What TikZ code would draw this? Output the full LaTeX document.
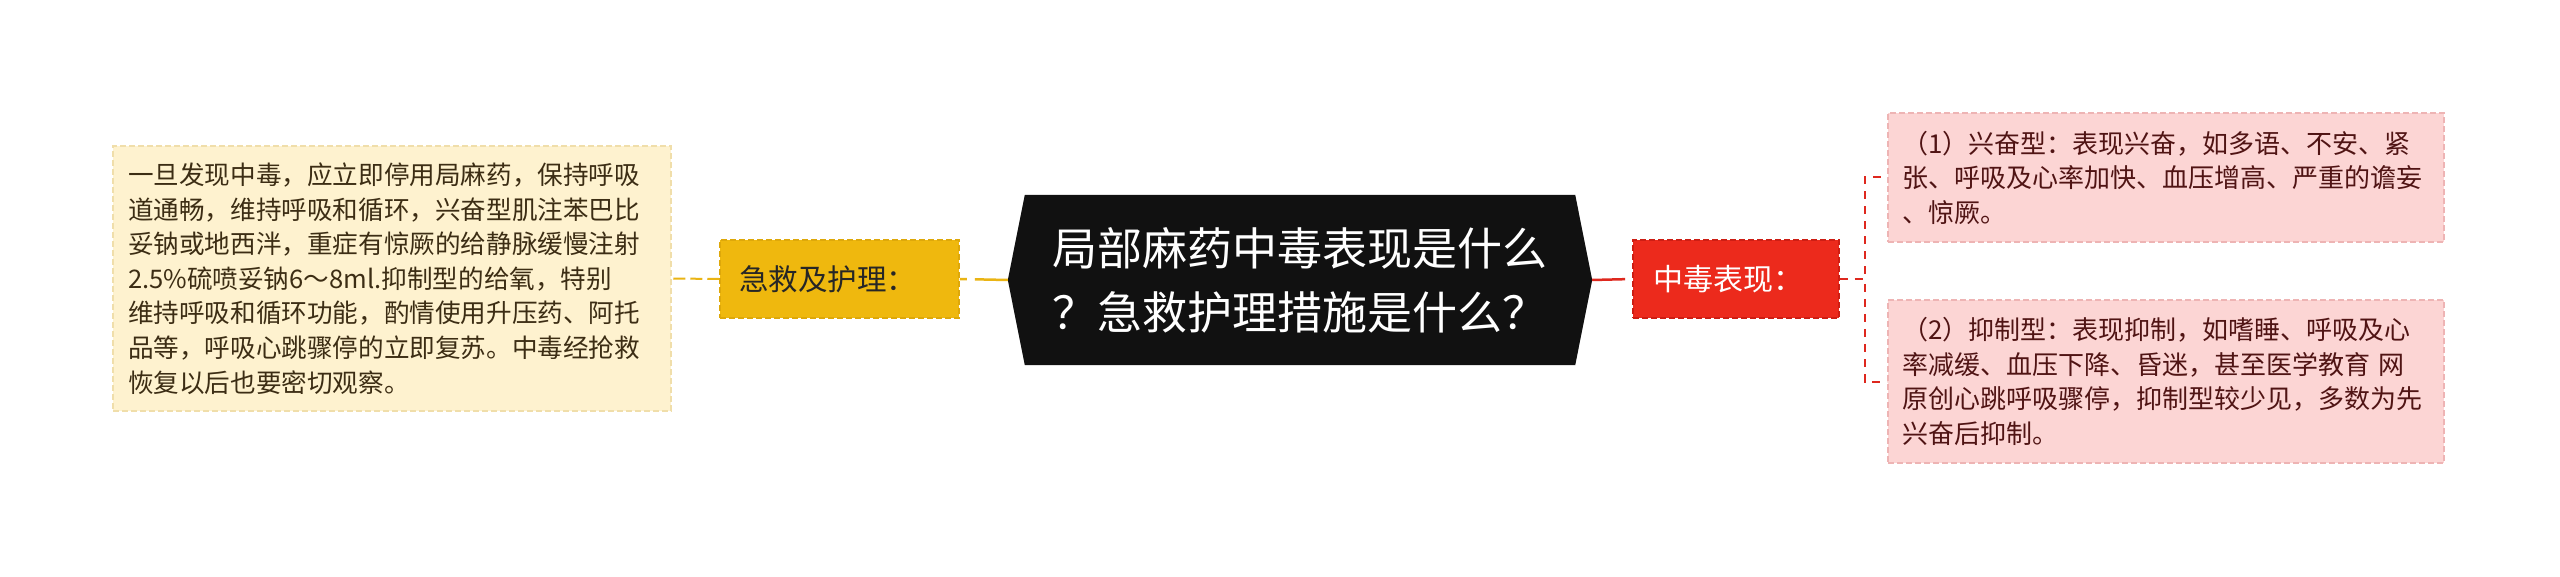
\documentclass[tikz,border=0pt]{standalone}
\usepackage{fontspec}
\usepackage{xcolor}
\usetikzlibrary{backgrounds}
\newfontfamily\cjk{Noto Sans CJK SC}
\definecolor{rootblack}{RGB}{17,17,17}
\definecolor{aidyellow}{RGB}{239,184,14}
\definecolor{aidline}{RGB}{234,180,20}
\definecolor{aidborder}{RGB}{222,168,10}
\definecolor{creamfill}{RGB}{254,242,207}
\definecolor{creamborder}{RGB}{240,222,170}
\definecolor{creamtext}{RGB}{60,45,20}
\definecolor{signred}{RGB}{236,42,28}
\definecolor{signborder}{RGB}{205,30,20}
\definecolor{signline}{RGB}{222,40,30}
\definecolor{pinkfill}{RGB}{252,213,212}
\definecolor{pinkborder}{RGB}{238,180,180}
\definecolor{pinktext}{RGB}{80,20,20}

\begin{document}
\begin{tikzpicture}[x=1pt, y=-1pt,
    topic/.style={rectangle, draw, dash pattern=on 6pt off 3pt, line width=1.5pt, align=left, inner ysep=0pt},
    aidtopic/.style={topic, fill=aidyellow, draw=aidborder, text=black!85, font=\cjk\fontsize{29.5}{36}\selectfont, text width=201pt, inner xsep=19pt, minimum height=78pt},
    signtopic/.style={topic, fill=signred, draw=signborder, text=white, font=\cjk\fontsize{30}{36}\selectfont, text width=166pt, inner xsep=20pt, minimum height=78pt},
    aidnote/.style={topic, fill=creamfill, draw=creamborder, text=creamtext, font=\cjk\fontsize{25.6}{34.6}\selectfont, text width=528pt, inner xsep=15pt, minimum height=265pt},
    signnote/.style={topic, fill=pinkfill, draw=pinkborder, text=pinktext, font=\cjk\fontsize{26}{34.5}\selectfont, text width=528pt, inner xsep=14pt},
    rootlink/.style={line width=2.5pt, dash pattern=on 33pt off 8pt},
    sublink/.style={line width=2pt, dash pattern=on 12pt off 5pt},
    bracelink/.style={line width=2pt, signline, dash pattern=on 8pt off 7pt}]
    \useasboundingbox (0,0) rectangle (2560,577);

    % Root topic
    \node[text=white, align=left, minimum width=584pt, minimum height=170pt, inner sep=0pt,
        font=\cjk\fontsize{45}{64}\selectfont] (root) at (1300,280)
        {局部麻药中毒表现是什么\\？急救护理措施是什么？};

    % Left branch
    \node[aidtopic] (aid) at (839.5,279) {急救及护理：};
    \node[aidnote] (aidtext) at (392,278.5)
        {一旦发现中毒，应立即停用局麻药，保持呼吸\\
         道通畅，维持呼吸和循环，兴奋型肌注苯巴比\\
         妥钠或地西泮，重症有惊厥的给静脉缓慢注射\\
         2.5\%硫喷妥钠6～8ml.抑制型的给氧，特别\\
         维持呼吸和循环功能，酌情使用升压药、阿托\\
         品等，呼吸心跳骤停的立即复苏。中毒经抢救\\
         恢复以后也要密切观察。};

    % Right branch
    \node[signtopic] (sign) at (1736,279) {中毒表现：};
    \node[signnote, minimum height=129pt] (excite) at (2166,177.5)
        {（1）兴奋型：表现兴奋，如多语、不安、紧\\
         张、呼吸及心率加快、血压增高、严重的谵妄\\
         、惊厥。};
    \node[signnote, minimum height=163pt] (depress) at (2166,381.5)
        {（2）抑制型：表现抑制，如嗜睡、呼吸及心\\
         率减缓、血压下降、昏迷，甚至医学教育 网\\
         原创心跳呼吸骤停，抑制型较少见，多数为先\\
         兴奋后抑制。};

    % Root shape
    \begin{scope}[on background layer]
        \fill[white] (0,0) rectangle (2560,577);
        \fill[rootblack] (root.west) -- ([xshift=17pt]root.north west) -- ([xshift=-17pt]root.north east)
            -- (root.east) -- ([xshift=-17pt]root.south east) -- ([xshift=17pt]root.south west) -- cycle;
    \end{scope}

    % Links
    \draw[rootlink, aidline] (root.west) -- (aid.east);
    \draw[sublink, aidline] (aid.west) -- (aidtext.east);
    \draw[rootlink, signline] (root.east) -- (sign.west);
    \draw[bracelink] (sign.east) -- ++(25,0) |- (excite.west);
    \draw[bracelink] (sign.east) -- ++(25,0) |- (depress.west);
\end{tikzpicture}
\end{document}
